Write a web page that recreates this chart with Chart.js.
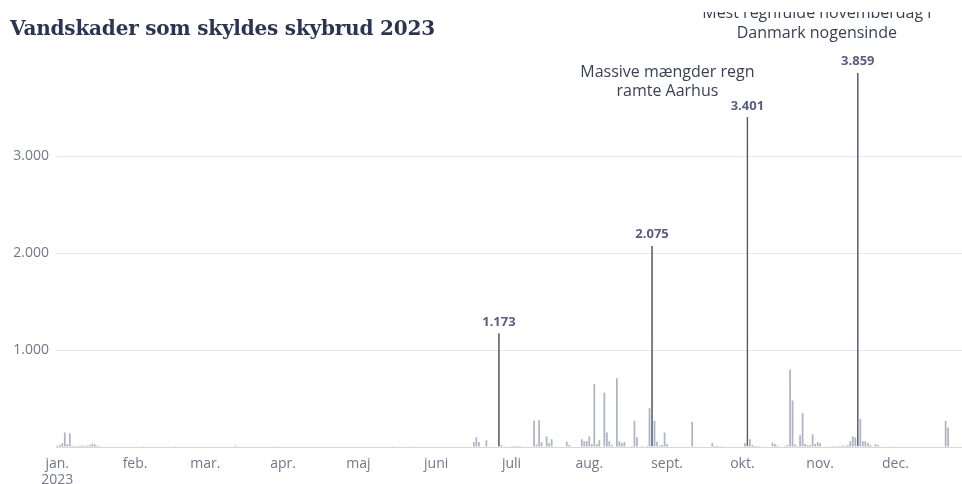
<!DOCTYPE html>
<html lang="da">
<head>
<meta charset="utf-8">
<title>Vandskader som skyldes skybrud 2023</title>
<script src="https://cdn.jsdelivr.net/npm/chart.js@4/dist/chart.umd.min.js"></script>
<style>
  html, body { margin: 0; padding: 0; background: #fff; overflow: hidden; }
  body { width: 962px; height: 484px; position: relative; }
  h1 {
    position: absolute; left: 10px; top: 18px; margin: 0; z-index: 2;
    font: bold 20px "DejaVu Serif", serif; line-height: 20px; color: #2b3452;
    letter-spacing: -0.2px;
  }
  #wrap { position: absolute; left: 0; top: 12px; width: 985px; height: 472px; }
</style>
</head>
<body>
<h1>Vandskader som skyldes skybrud 2023</h1>
<div id="wrap"><canvas id="claims"></canvas></div>
<script>
/* daily water-damage claims caused by cloudbursts, 2023 */
const YEAR = 2023;
const monthTicks = ["jan.", "feb.", "mar.", "apr.", "maj", "juni", "juli", "aug.", "sept.", "okt.", "nov.", "dec."];

// day of year (0 = 1. jan.) and claims reported that day; days not listed had none
const claimDays = [
  0, 1, 2, 3, 4, 5, 6, 7, 8, 9, 10, 11, 12, 13, 14, 15, 16, 17,
  34, 47, 71, 88, 134, 142,
  166, 167, 168, 171, 176, 177, 181, 182, 183, 184, 185,
  190, 191, 192, 193, 195, 196, 197, 203, 204,
  209, 210, 211, 212, 213, 214, 215, 216, 218, 219, 220, 221, 223, 224, 225, 226,
  229, 230, 231, 233, 235, 236, 237, 238, 239, 240, 241, 242, 243,
  253, 261, 262, 263, 264, 265,
  274, 275, 276, 277, 278, 279, 280, 285, 286, 287,
  290, 291, 292, 293, 294, 295, 296, 297, 298, 299, 300, 301, 302, 303, 304,
  308, 309, 310, 311, 312, 313, 314, 315, 316, 317, 318, 319, 320, 321, 322, 323, 324, 326, 327, 333,
  354, 355,
];
const claimCounts = [
  15, 20, 40, 150, 30, 140, 15, 10, 12, 10, 15, 12, 15, 20, 35, 25, 15, 8,
  8, 8, 15, 8, 8, 8,
  50, 100, 50, 70, 1173, 20, 8, 10, 12, 10, 8,
  270, 25, 275, 50, 110, 40, 80, 55, 20,
  80, 60, 60, 110, 30, 650, 30, 70, 560, 150, 60, 20, 710, 60, 40, 50,
  10, 270, 100, 10, 10, 400, 2075, 270, 55, 15, 20, 150, 30,
  260, 40, 10, 12, 8, 10,
  40, 3401, 80, 20, 10, 10, 8, 45, 30, 15,
  10, 20, 800, 480, 25, 10, 120, 350, 30, 20, 20, 130, 30, 50, 40,
  8, 10, 8, 12, 10, 15, 12, 20, 60, 110, 100, 3859, 290, 60, 60, 40, 20, 30, 20, 8,
  270, 200,
];

// record days drawn dark with their value on top
const peakDays = [176, 237, 275, 319];

const notes = [
  { day: 275, lines: ["Massive mængder regn", "ramte Aarhus"] },
  { day: 319, lines: ["Mest regnfulde novemberdag i", "Danmark nogensinde"] },
];
const noteLayout = [
  { dx: -80, y: 64.5 },
  { dx: -41, y: 6 },
];

const yTicks = [1000, 2000, 3000];

const FONT = "'Open Sans', sans-serif";
const GREY_BAR = "#b0b4c2";
const DARK_BAR = "#2b3552";

function fmt(v) {
  return String(v).replace(/\B(?=(\d{3})+(?!\d))/g, ".");
}

const dates = [];
for (let d = new Date(YEAR, 0, 1); d.getFullYear() === YEAR; d.setDate(d.getDate() + 1)) {
  dates.push(new Date(d));
}
const labels = dates.map((d) => d.getDate() + ". " + monthTicks[d.getMonth()]);
const daily = dates.map(() => 0);
claimDays.forEach((day, i) => { daily[day] = claimCounts[i]; });

const peakLabels = {
  id: "peakLabels",
  afterDatasetsDraw(chart) {
    const { ctx } = chart;
    const meta = chart.getDatasetMeta(0);
    ctx.save();
    ctx.textAlign = "center";
    ctx.textBaseline = "middle";
    ctx.font = "bold 13px " + FONT;
    ctx.fillStyle = "#5a5d86";
    for (const day of peakDays) {
      const bar = meta.data[day];
      ctx.fillText(fmt(daily[day]), bar.x, bar.y - 11);
    }
    ctx.textBaseline = "alphabetic";
    ctx.font = "16px " + FONT;
    ctx.fillStyle = "#3b3f52";
    notes.forEach((n, i) => {
      const x = meta.data[n.day].x + noteLayout[i].dx;
      n.lines.forEach((line, j) => ctx.fillText(line, x, noteLayout[i].y + j * 19.5));
    });
    ctx.restore();
  },
};

new Chart(document.getElementById("claims"), {
  type: "bar",
  data: {
    labels,
    datasets: [{
      label: "Vandskader",
      data: daily,
      backgroundColor: (c) => (peakDays.includes(c.dataIndex) ? DARK_BAR : GREY_BAR),
      borderColor: (c) => (peakDays.includes(c.dataIndex) ? DARK_BAR : GREY_BAR),
      borderWidth: (c) => (peakDays.includes(c.dataIndex) ? 0.5 : 0),
      barPercentage: 0.7,
      categoryPercentage: 1,
    }],
  },
  options: {
    responsive: true,
    maintainAspectRatio: false,
    animation: false,
    layout: { padding: { top: 47, right: 13, left: 0, bottom: 0 } },
    plugins: { legend: { display: false }, tooltip: { enabled: false } },
    scales: {
      x: {
        grid: { display: false },
        border: { display: false },
        ticks: {
          autoSkip: false,
          maxRotation: 0,
          minRotation: 0,
          padding: 1,
          color: "#74778a",
          font: { family: FONT, size: 14, lineHeight: 1.15 },
          callback: (v, i) => {
            const d = dates[i];
            if (d.getDate() !== 1) return "";
            return d.getMonth() === 0 ? [monthTicks[0], String(YEAR)] : monthTicks[d.getMonth()];
          },
        },
        afterFit: (axis) => { axis.height = 37; },
      },
      y: {
        min: 0,
        max: 4000,
        border: { display: false },
        grid: {
          drawTicks: false,
          color: (c) => (c.tick && c.tick.value === 0 ? "#d6d8e0" : "#e6e7ec"),
        },
        ticks: {
          stepSize: 1000,
          padding: 7,
          color: "#74778a",
          font: { family: FONT, size: 14 },
          callback: (v) => (v === 4000 ? null : yTicks.includes(v) ? fmt(v) : ""),
        },
        afterFit: (axis) => { axis.width = 56; },
      },
    },
  },
  plugins: [peakLabels],
});
</script>
</body>
</html>
